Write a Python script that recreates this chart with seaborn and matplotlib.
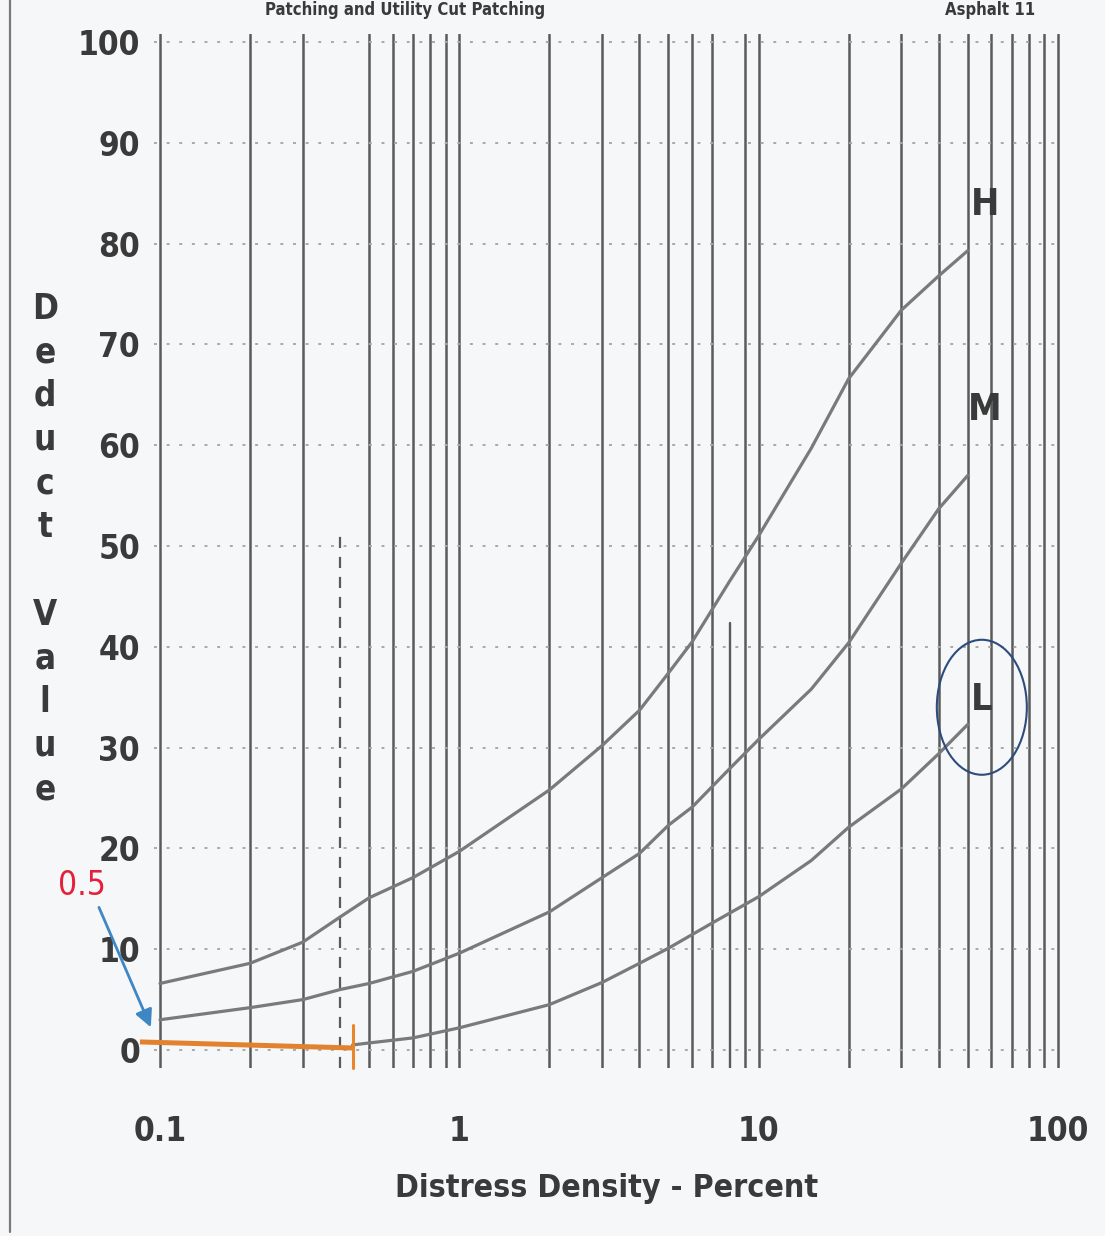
import numpy as np
import pandas as pd
import matplotlib
matplotlib.use("Agg")
import matplotlib.pyplot as plt
from matplotlib.patches import Ellipse
from matplotlib.lines import Line2D
import seaborn as sns

# Deduct value curves: distress density (percent) -> deduct value, per severity
density_h = [0.1, 0.2, 0.3, 0.4, 0.5, 0.7, 1, 2, 3, 4, 5, 6, 8, 10, 15, 20, 30, 40, 50]
deduct_h = [6.6, 8.6, 10.7, 13.2, 15.1, 17.1, 19.7, 25.8, 30.2, 33.7, 37.4, 40.5,
            46.5, 51.0, 59.7, 66.6, 73.4, 76.8, 79.3]

density_m = [0.1, 0.2, 0.3, 0.4, 0.5, 0.7, 1, 2, 3, 4, 5, 6, 8, 10, 15, 20, 30, 40, 50]
deduct_m = [3.0, 4.2, 5.0, 6.0, 6.6, 7.8, 9.6, 13.7, 17.1, 19.5, 22.3, 24.1,
            27.9, 30.8, 35.8, 40.4, 48.3, 53.7, 57.0]

density_l = [0.44, 0.5, 0.7, 1, 2, 3, 4, 5, 7, 10, 15, 20, 30, 40, 50]
deduct_l = [0.5, 0.7, 1.2, 2.2, 4.5, 6.7, 8.6, 10.1, 12.6, 15.2, 18.8, 22.1, 25.9, 29.4, 32.3]

severity = ["H", "M", "L"]
x_ticks = [0.1, 1, 10, 100]
x_tick_labels = ["0.1", "1", "10", "100"]
y_ticks = list(range(0, 101, 10))

# worked reading: density at the orange marker and the deduct value
marker_density = 0.44
marker_deduct = 0.5

frames = []
for sev, xs, ys in zip(severity, (density_h, density_m, density_l), (deduct_h, deduct_m, deduct_l)):
    frames.append(pd.DataFrame({"density": xs, "deduct": ys, "severity": sev}))
curves = pd.concat(frames, ignore_index=True)

sns.set_theme(style="white")
plt.rcParams["font.family"] = ["DejaVu Sans"]
plt.rcParams["font.stretch"] = "condensed"
plt.rcParams["font.weight"] = "bold"

W, H = 1105, 1236
bg = "#f6f7f9"
ink = "#3a3a3a"
grid_col = "#5a5a5a"
curve_col = "#7a7a7a"

fig = plt.figure(figsize=(W / 100, H / 100), dpi=100, facecolor=bg)
ax = fig.add_axes([154 / W, 1 - 1068 / H, 910 / W, (1068 - 34) / H])
ax.set_facecolor(bg)

ax.set_xscale("log")
ax.set_xlim(10 ** -1.02, 10 ** 2.0204)
ax.set_ylim(-1.786, 100.79)

# vertical log grid
grid_x = [m * 10.0 ** e for e in (-1, 0, 1) for m in range(1, 10)] + [100]
for gx in grid_x:
    if np.isclose(gx, 0.4):
        ax.axvline(gx, ymin=0, ymax=0.52, color=grid_col, lw=1.6, ls=(0, (5, 4)), zorder=1)
    elif np.isclose(gx, 8):
        ax.axvline(gx, ymin=0, ymax=0.43, color=grid_col, lw=1.7, zorder=1)
    else:
        ax.axvline(gx, color=grid_col, lw=1.8, zorder=1)

# faint dotted horizontal grid
for gy in y_ticks:
    ax.axhline(gy, color="#a8a8a8", lw=1.4, ls=(0, (1.5, 5)), zorder=1)

sns.lineplot(data=curves, x="density", y="deduct", hue="severity",
             palette={s: curve_col for s in severity}, estimator=None, sort=False,
             lw=2.3, legend=False, ax=ax, zorder=3)
ax.set_xscale("log")
ax.set_xlim(10 ** -1.02, 10 ** 2.0204)
ax.set_ylim(-1.786, 100.79)

for sp in ax.spines.values():
    sp.set_visible(False)
ax.grid(False)

ax.set_xticks(x_ticks)
ax.set_xticklabels(x_tick_labels)
ax.xaxis.set_minor_locator(matplotlib.ticker.NullLocator())
ax.set_yticks(y_ticks)
ax.set_yticklabels([str(v) for v in y_ticks])
ax.tick_params(axis="x", length=0, pad=34, labelsize=24, labelcolor=ink)
ax.tick_params(axis="y", length=0, pad=10, labelsize=24, labelcolor=ink)
for lab in ax.get_xticklabels() + ax.get_yticklabels():
    lab.set_fontweight("bold")
    lab.set_fontstretch("condensed")
ax.set_xlabel("")
ax.set_ylabel("")

# severity labels at the right end of each curve
for sev, (lx, ly) in zip(severity, [(57, 83.8), (57, 63.5), (55.5, 34.7)]):
    ax.text(lx, ly, sev, ha="center", va="center", fontsize=27, fontweight="bold",
            color=ink, zorder=4)

# circle around the L label
cx, cy = ax.transAxes.inverted().transform(ax.transData.transform((55.7, 34.0)))
ax.add_patch(Ellipse((cx, cy), 90 / 910, 135 / 1034, transform=ax.transAxes,
                     fill=False, ec="#2d4c7c", lw=1.5, zorder=5, clip_on=False))

# orange reading lines
ax.plot([0.0857, marker_density], [marker_deduct + 0.3, marker_deduct - 0.3],
        color="#e2822f", lw=3.6, solid_capstyle="butt", clip_on=False, zorder=6)
ax.plot([marker_density, marker_density], [-1.8, 2.5], color="#e8862e", lw=2.2,
        clip_on=False, zorder=6)

# arrow and value label
ax.annotate("", xy=(0.094, 2.0), xytext=(0.062, 14.4),
            arrowprops=dict(arrowstyle="-|>", color="#3f86c4", lw=2.0, mutation_scale=26),
            annotation_clip=False, zorder=7)
ax.text(0.055, 16.3, f"{marker_deduct}", ha="center", va="center", fontsize=24,
        fontweight="normal", color="#e3223a", zorder=7, clip_on=False)

# axis titles
fig.text(607 / W, 1 - 1197 / H, "Distress Density - Percent", ha="center", va="baseline",
         fontsize=23, fontweight="bold", color=ink)
fig.text(45 / W, 1 - 549 / H, "D\ne\nd\nu\nc\nt\n\nV\na\nl\nu\ne", ha="center", va="center",
         multialignment="center", linespacing=1.36, fontsize=25, fontweight="bold", color=ink)

# page header
fig.text(405 / W, 1 - 15 / H, "Patching and Utility Cut Patching", ha="center", va="baseline",
         fontsize=12, fontweight="bold", color=ink)
fig.text(990 / W, 1 - 15 / H, "Asphalt 11", ha="center", va="baseline",
         fontsize=12, fontweight="bold", color=ink)

# page border on the left
fig.add_artist(Line2D([10 / W, 10 / W], [1 - 1232 / H, 1], transform=fig.transFigure,
                      color="#7a7a7a", lw=1.6))

fig.savefig("out.png", dpi=100, facecolor=bg)
